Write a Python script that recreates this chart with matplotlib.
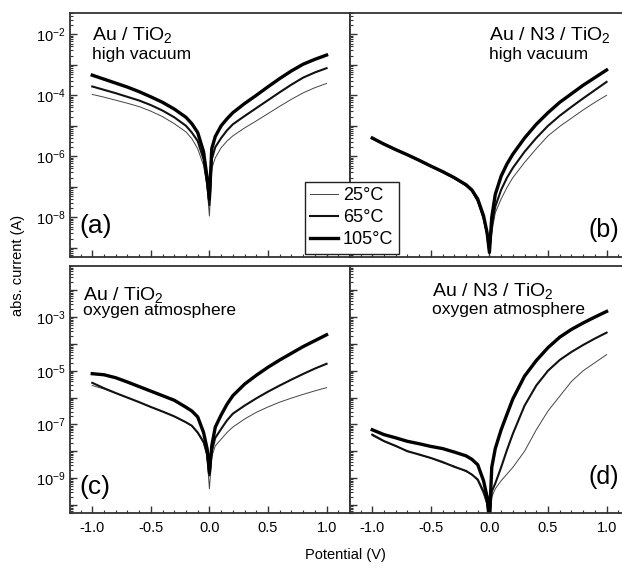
import numpy as np
import matplotlib
matplotlib.use("Agg")
import matplotlib.pyplot as plt
from matplotlib.ticker import FixedLocator, LogLocator, FuncFormatter, MultipleLocator

plt.rcParams['font.family'] = ['Liberation Sans', 'DejaVu Sans']
plt.rcParams['mathtext.fontset'] = 'custom'
plt.rcParams['mathtext.rm'] = 'Liberation Sans'
plt.rcParams['mathtext.it'] = 'Liberation Sans:italic'
plt.rcParams['axes.unicode_minus'] = False

# potential (V)
potential = [-1.0, -0.9, -0.8, -0.7, -0.6, -0.5, -0.4, -0.3, -0.2, -0.15, -0.1, -0.05, -0.02, 0.0,
             0.02, 0.05, 0.1, 0.15, 0.2, 0.3, 0.4, 0.5, 0.6, 0.7, 0.8, 0.9, 1.0]

# (a) Au / TiO2, high vacuum  -- log10 of abs. current (A)
a_25 = [-3.97, -4.06, -4.16, -4.26, -4.37, -4.52, -4.7, -4.93, -5.2, -5.42, -5.75, -6.3, -7.0, -7.96,
        -6.4, -6.05, -5.72, -5.5, -5.33, -5.07, -4.84, -4.6, -4.36, -4.13, -3.92, -3.75, -3.61]
a_65 = [-3.71, -3.82, -3.93, -4.05, -4.17, -4.32, -4.5, -4.72, -5.0, -5.22, -5.5, -6.1, -6.85, -7.6,
        -6.1, -5.7, -5.4, -5.15, -4.95, -4.68, -4.42, -4.16, -3.9, -3.65, -3.42, -3.25, -3.11]
a_105 = [-3.34, -3.47, -3.6, -3.73, -3.88, -4.05, -4.23, -4.45, -4.72, -4.93, -5.22, -5.85, -6.7, -7.4,
         -5.75, -5.35, -5.0, -4.77, -4.57, -4.27, -4.0, -3.72, -3.45, -3.2, -2.98, -2.82, -2.68]

# (b) Au / N3 / TiO2, high vacuum
b_25 = [-5.42, -5.61, -5.79, -5.96, -6.14, -6.33, -6.52, -6.72, -6.97, -7.15, -7.5, -8.1, -8.6, -9.15,
        -8.5, -7.85, -7.4, -7.02, -6.7, -6.2, -5.75, -5.33, -5.02, -4.75, -4.48, -4.23, -4.0]
b_65 = [-5.41, -5.6, -5.78, -5.95, -6.13, -6.32, -6.51, -6.71, -6.95, -7.12, -7.45, -8.0, -8.55, -9.15,
        -8.3, -7.65, -7.1, -6.7, -6.38, -5.85, -5.4, -5.0, -4.67, -4.38, -4.1, -3.83, -3.56]
b_105 = [-5.4, -5.6, -5.78, -5.95, -6.13, -6.32, -6.5, -6.7, -6.93, -7.1, -7.4, -7.95, -8.5, -9.15,
         -8.0, -7.25, -6.65, -6.25, -5.93, -5.4, -4.95, -4.57, -4.23, -3.95, -3.67, -3.42, -3.17]

# (c) Au / TiO2, oxygen atmosphere
c_25 = [-5.55, -5.68, -5.84, -6.0, -6.17, -6.35, -6.52, -6.7, -6.93, -7.06, -7.32, -7.7, -8.2, -9.4,
        -8.2, -7.8, -7.55, -7.3, -7.1, -6.8, -6.55, -6.35, -6.17, -6.02, -5.88, -5.75, -5.63]
c_65 = [-5.45, -5.65, -5.83, -6.0, -6.17, -6.35, -6.52, -6.7, -6.92, -7.05, -7.3, -7.65, -8.1, -8.9,
        -8.0, -7.5, -7.17, -6.85, -6.6, -6.3, -6.03, -5.78, -5.55, -5.33, -5.12, -4.92, -4.74]
c_105 = [-5.11, -5.15, -5.26, -5.42, -5.59, -5.76, -5.93, -6.1, -6.36, -6.5, -6.72, -7.3, -7.9, -8.8,
         -7.8, -7.1, -6.65, -6.25, -5.93, -5.5, -5.17, -4.87, -4.6, -4.35, -4.1, -3.88, -3.66]

# (d) Au / N3 / TiO2, oxygen atmosphere
d_25 = [-7.42, -7.64, -7.82, -7.98, -8.14, -8.26, -8.43, -8.55, -8.76, -8.85, -9.1, -9.6, -10.0, -10.6,
        -9.7, -9.4, -9.1, -8.85, -8.6, -8.0, -7.2, -6.5, -5.95, -5.4, -5.0, -4.7, -4.4]
d_65 = [-7.38, -7.62, -7.8, -8.0, -8.12, -8.25, -8.4, -8.58, -8.73, -8.87, -9.05, -9.5, -9.9, -10.6,
        -9.5, -9.2, -8.6, -7.95, -7.35, -6.3, -5.55, -5.0, -4.6, -4.3, -4.04, -3.8, -3.58]
d_105 = [-7.2, -7.38, -7.5, -7.63, -7.72, -7.82, -7.9, -8.03, -8.17, -8.3, -8.5, -9.1, -9.7, -10.6,
         -8.6, -7.9, -7.2, -6.62, -6.05, -5.2, -4.62, -4.14, -3.75, -3.46, -3.22, -3.0, -2.79]

temps = ['25°C', '65°C', '105°C']
widths = [0.7, 1.5, 2.4]
colors = ['#444444', '#111111', '#000000']

fig = plt.figure(figsize=(6.22, 5.68), dpi=100)
W, H = 622, 568

def px_axes(x0, y0, x1, y1):
    return fig.add_axes([x0 / W, 1 - y1 / H, (x1 - x0) / W, (y1 - y0) / H])

ax_a = px_axes(70, 13, 350, 257)
ax_b = px_axes(350, 13, 630, 257)
ax_c = px_axes(70, 266, 350, 513)
ax_d = px_axes(350, 266, 630, 513)

panels = [
    (ax_a, [a_25, a_65, a_105], (5e-10, 5e-2), [-8, -6, -4, -2]),
    (ax_b, [b_25, b_65, b_105], (5e-10, 5e-2), [-8, -6, -4, -2]),
    (ax_c, [c_25, c_65, c_105], (5e-11, 8e-2), [-9, -7, -5, -3]),
    (ax_d, [d_25, d_65, d_105], (5e-11, 8e-2), [-9, -7, -5, -3]),
]

for i, (ax, series, ylim, labelled) in enumerate(panels):
    lines = []
    for s, t, lw, col in zip(series, temps, widths, colors):
        ln, = ax.plot(potential, 10.0 ** np.array(s), color=col, lw=lw, label=t,
                      solid_joinstyle='round')
        lines.append(ln)
    ax.set_yscale('log')
    ax.set_ylim(*ylim)
    ax.set_xlim(-1.19, 1.2)
    decades = list(range(int(np.floor(np.log10(ylim[0]))), int(np.ceil(np.log10(ylim[1]))) + 1))
    ax.yaxis.set_major_locator(FixedLocator([10.0 ** d for d in decades]))
    ax.yaxis.set_minor_locator(LogLocator(base=10, subs=np.arange(2, 10), numticks=30))
    ax.yaxis.set_major_formatter(FuncFormatter(
        lambda v, p, lab=labelled: ('10$^{%d}$' % round(np.log10(v))) if round(np.log10(v)) in lab else ''))
    ax.xaxis.set_major_locator(MultipleLocator(0.5))
    ax.xaxis.set_minor_locator(MultipleLocator(0.1))
    ax.xaxis.set_major_formatter(FuncFormatter(lambda v, p: '%.1f' % v))
    ax.tick_params(which='both', direction='in', top=False, right=False, color='#333333')
    ax.tick_params(which='major', length=5, width=1.0, labelsize=10.5, pad=3)
    ax.tick_params(axis='x', which='major', pad=6)
    ax.tick_params(which='minor', length=2.5, width=0.8)
    for sp in ax.spines.values():
        sp.set_color('#333333')
        sp.set_linewidth(1.3)
    if i in (0, 1):
        ax.tick_params(axis='x', labelbottom=False)
    if i in (1, 3):
        ax.tick_params(axis='y', labelleft=False)
    if i == 0:
        legend_lines = lines

ax_a.text(0.079, 0.952, 'Au / TiO$_2$', transform=ax_a.transAxes, fontsize=14, va='top')
ax_a.text(0.079, 0.862, 'high vacuum', transform=ax_a.transAxes, fontsize=12.5, va='top')
ax_a.text(0.033, 0.127, '(a)', transform=ax_a.transAxes, fontsize=19, va='center')

ax_b.text(0.496, 0.952, 'Au / N3 / TiO$_2$', transform=ax_b.transAxes, fontsize=14, va='top')
ax_b.text(0.496, 0.862, 'high vacuum', transform=ax_b.transAxes, fontsize=12.5, va='top')
ax_b.text(0.85, 0.11, '(b)', transform=ax_b.transAxes, fontsize=18, va='center')

ax_c.text(0.046, 0.925, 'Au / TiO$_2$', transform=ax_c.transAxes, fontsize=14, va='top')
ax_c.text(0.046, 0.85, 'oxygen atmosphere', transform=ax_c.transAxes, fontsize=12.5, va='top')
ax_c.text(0.033, 0.105, '(c)', transform=ax_c.transAxes, fontsize=19, va='center')

ax_d.text(0.293, 0.94, 'Au / N3 / TiO$_2$', transform=ax_d.transAxes, fontsize=14, va='top')
ax_d.text(0.293, 0.855, 'oxygen atmosphere', transform=ax_d.transAxes, fontsize=12.5, va='top')
ax_d.text(0.853, 0.146, '(d)', transform=ax_d.transAxes, fontsize=18, va='center')

leg = fig.legend(handles=legend_lines, labels=temps, loc='upper left',
                 bbox_to_anchor=(305 / W, 1 - 182 / H), borderaxespad=0,
                 fontsize=13, frameon=True, fancybox=False, framealpha=1,
                 edgecolor='#222222', handlelength=1.5, handletextpad=0.3,
                 labelspacing=0.27, borderpad=0.3)
leg.get_frame().set_linewidth(1.0)

fig.text(18 / W, 1 - 265 / H, 'abs. current (A)', rotation=90, fontsize=10.5,
         ha='center', va='center')
fig.text(345 / W, 1 - 555 / H, 'Potential (V)', fontsize=10.5, ha='center', va='center')

fig.savefig('out.png', dpi=100)
